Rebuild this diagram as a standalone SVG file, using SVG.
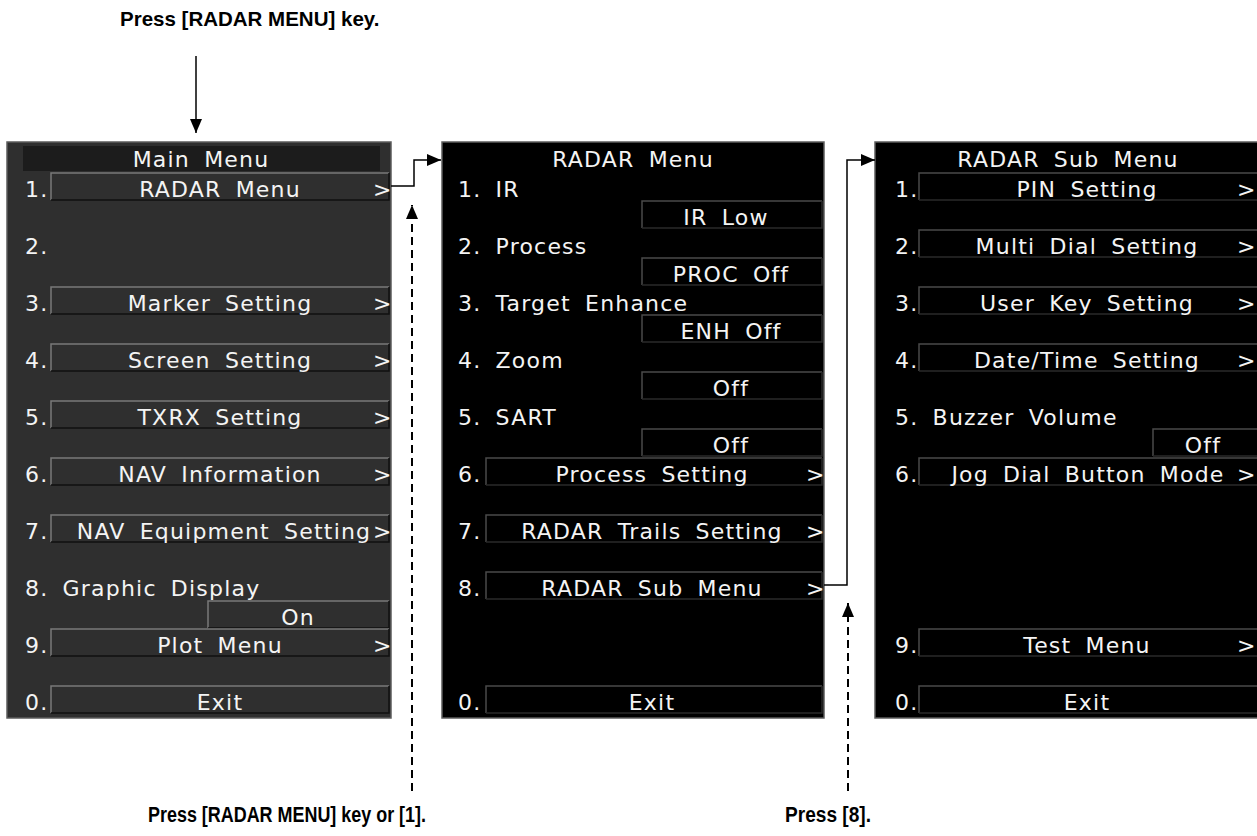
<svg xmlns="http://www.w3.org/2000/svg" width="1257" height="836" viewBox="0 0 1257 836">
<defs>
<style>
.bg{fill:#ffffff}
.pm{fill:#2f2f2f;stroke:#5c5c5c;stroke-width:1.5}
.pr{fill:#000000;stroke:#5c5c5c;stroke-width:1.5}
.tb{fill:#1c1c1c}
.t{font-family:"DejaVu Sans",sans-serif;font-size:22px;fill:#f4f4f4;letter-spacing:1.2px;word-spacing:6px}
.c{text-anchor:middle}
.gt{letter-spacing:0}
.hl{fill:none;stroke:#7a7a7a;stroke-width:1.5}
.sh{fill:none;stroke:#111111;stroke-width:1.5}
.hlb{fill:none;stroke:#4a4a4a;stroke-width:1.5}
.shb{fill:none;stroke:#2a2a2a;stroke-width:1.5}
.lab{font-family:"Liberation Sans",Arial,sans-serif;font-weight:bold;font-size:20.5px;fill:#000}
.labn{font-family:"Liberation Sans",Arial,sans-serif;font-weight:bold;font-size:22px;fill:#000}
.con{fill:none;stroke:#000;stroke-width:1.5}
.dash{fill:none;stroke:#000;stroke-width:2;stroke-dasharray:8 5}
</style>
<marker id="ah" markerUnits="userSpaceOnUse" markerWidth="14" markerHeight="12" refX="14" refY="6" orient="auto"><path d="M0,0 L14,6 L0,12 z" fill="#000"/></marker>
</defs>
<rect class="bg" x="0" y="0" width="1257" height="836"/>

<g id="label-top"><text class="lab" x="120" y="26">Press [RADAR MENU] key.</text></g>

<g id="main-menu">
<rect class="pm" x="7" y="142" width="384" height="576"/>
<rect class="tb" x="23" y="146" width="357" height="25"/>
<text class="t c" x="201" y="167">Main Menu</text>
<path class="hl" d="M51,200 V173 H389"/><path class="sh" d="M389,173 V200 H51"/>
<text class="t" x="25" y="197">1.</text><text class="t c" x="220" y="197">RADAR Menu</text><text class="t gt" x="373" y="197">&gt;</text>
<text class="t" x="25" y="254">2.</text>
<path class="hl" d="M51,314 V287 H389"/><path class="sh" d="M389,287 V314 H51"/>
<text class="t" x="25" y="311">3.</text><text class="t c" x="220" y="311">Marker Setting</text><text class="t gt" x="373" y="311">&gt;</text>
<path class="hl" d="M51,371 V344 H389"/><path class="sh" d="M389,344 V371 H51"/>
<text class="t" x="25" y="368">4.</text><text class="t c" x="220" y="368">Screen Setting</text><text class="t gt" x="373" y="368">&gt;</text>
<path class="hl" d="M51,428 V401 H389"/><path class="sh" d="M389,401 V428 H51"/>
<text class="t" x="25" y="425">5.</text><text class="t c" x="220" y="425">TXRX Setting</text><text class="t gt" x="373" y="425">&gt;</text>
<path class="hl" d="M51,485 V458 H389"/><path class="sh" d="M389,458 V485 H51"/>
<text class="t" x="25" y="482">6.</text><text class="t c" x="220" y="482">NAV Information</text><text class="t gt" x="373" y="482">&gt;</text>
<path class="hl" d="M51,542 V515 H389"/><path class="sh" d="M389,515 V542 H51"/>
<text class="t" x="25" y="539">7.</text><text class="t c" x="224" y="539">NAV Equipment Setting</text><text class="t gt" x="373" y="539">&gt;</text>
<text class="t" x="25" y="596">8. Graphic Display</text>
<path class="hl" d="M208,628 V601 H389"/><path class="sh" d="M389,601 V628 H208"/>
<text class="t c" x="298" y="625">On</text>
<path class="hl" d="M51,656 V629 H389"/><path class="sh" d="M389,629 V656 H51"/>
<text class="t" x="25" y="653">9.</text><text class="t c" x="220" y="653">Plot Menu</text><text class="t gt" x="373" y="653">&gt;</text>
<path class="hl" d="M51,713 V686 H389"/><path class="sh" d="M389,686 V713 H51"/>
<text class="t" x="25" y="710">0.</text><text class="t c" x="220" y="710">Exit</text>
</g>

<g id="radar-menu">
<rect class="pr" x="442" y="142" width="382" height="576"/>
<text class="t c" x="633" y="167">RADAR Menu</text>
<text class="t" x="458" y="197">1. IR</text>
<path class="hlb" d="M642,228 V201 H822"/><path class="shb" d="M822,201 V228 H642"/>
<text class="t c" x="726" y="225">IR Low</text>
<text class="t" x="458" y="254">2. Process</text>
<path class="hlb" d="M642,285 V258 H822"/><path class="shb" d="M822,258 V285 H642"/>
<text class="t c" x="731" y="282">PROC Off</text>
<text class="t" x="458" y="311">3. Target Enhance</text>
<path class="hlb" d="M642,342 V315 H822"/><path class="shb" d="M822,315 V342 H642"/>
<text class="t c" x="731" y="339">ENH Off</text>
<text class="t" x="458" y="368">4. Zoom</text>
<path class="hlb" d="M642,399 V372 H822"/><path class="shb" d="M822,372 V399 H642"/>
<text class="t c" x="731" y="396">Off</text>
<text class="t" x="458" y="425">5. SART</text>
<path class="hlb" d="M642,456 V429 H822"/><path class="shb" d="M822,429 V456 H642"/>
<text class="t c" x="731" y="453">Off</text>
<path class="hlb" d="M486,485 V458 H822"/><path class="shb" d="M822,458 V485 H486"/>
<text class="t" x="458" y="482">6.</text><text class="t c" x="652" y="482">Process Setting</text><text class="t gt" x="806" y="482">&gt;</text>
<path class="hlb" d="M486,542 V515 H822"/><path class="shb" d="M822,515 V542 H486"/>
<text class="t" x="458" y="539">7.</text><text class="t c" x="652" y="539">RADAR Trails Setting</text><text class="t gt" x="806" y="539">&gt;</text>
<path class="hlb" d="M486,599 V572 H822"/><path class="shb" d="M822,572 V599 H486"/>
<text class="t" x="458" y="596">8.</text><text class="t c" x="652" y="596">RADAR Sub Menu</text><text class="t gt" x="806" y="596">&gt;</text>
<path class="hlb" d="M486,713 V686 H822"/><path class="shb" d="M822,686 V713 H486"/>
<text class="t" x="458" y="710">0.</text><text class="t c" x="652" y="710">Exit</text>
</g>

<g id="radar-sub-menu">
<rect class="pr" x="875" y="142" width="392" height="576"/>
<text class="t c" x="1068" y="167">RADAR Sub Menu</text>
<path class="hlb" d="M919,200 V173 H1262"/><path class="shb" d="M919,200 H1262"/>
<text class="t" x="895" y="197">1.</text><text class="t c" x="1087" y="197">PIN Setting</text><text class="t gt" x="1237" y="197">&gt;</text>
<path class="hlb" d="M919,257 V230 H1262"/><path class="shb" d="M919,257 H1262"/>
<text class="t" x="895" y="254">2.</text><text class="t c" x="1087" y="254">Multi Dial Setting</text><text class="t gt" x="1237" y="254">&gt;</text>
<path class="hlb" d="M919,314 V287 H1262"/><path class="shb" d="M919,314 H1262"/>
<text class="t" x="895" y="311">3.</text><text class="t c" x="1087" y="311">User Key Setting</text><text class="t gt" x="1237" y="311">&gt;</text>
<path class="hlb" d="M919,371 V344 H1262"/><path class="shb" d="M919,371 H1262"/>
<text class="t" x="895" y="368">4.</text><text class="t c" x="1087" y="368">Date/Time Setting</text><text class="t gt" x="1237" y="368">&gt;</text>
<text class="t" x="895" y="425">5. Buzzer Volume</text>
<path class="hlb" d="M1153,456 V429 H1262"/><path class="shb" d="M1153,456 H1262"/>
<text class="t c" x="1203" y="453">Off</text>
<path class="hlb" d="M919,485 V458 H1262"/><path class="shb" d="M919,485 H1262"/>
<text class="t" x="895" y="482">6.</text><text class="t c" x="1088" y="482">Jog Dial Button Mode</text><text class="t gt" x="1237" y="482">&gt;</text>
<path class="hlb" d="M919,656 V629 H1262"/><path class="shb" d="M919,656 H1262"/>
<text class="t" x="895" y="653">9.</text><text class="t c" x="1087" y="653">Test Menu</text><text class="t gt" x="1237" y="653">&gt;</text>
<path class="hlb" d="M919,713 V686 H1262"/><path class="shb" d="M919,713 H1262"/>
<text class="t" x="895" y="710">0.</text><text class="t c" x="1087" y="710">Exit</text>
</g>

<g id="connectors">
<line class="con" x1="196" y1="56" x2="196" y2="133" marker-end="url(#ah)"/>
<path class="con" d="M391,186 H414 V160 H441" marker-end="url(#ah)"/>
<path class="con" d="M824,585 H847 V160 H875" marker-end="url(#ah)"/>
<line class="dash" x1="412" y1="791" x2="412" y2="205" marker-end="url(#ah)"/>
<line class="dash" x1="848" y1="791" x2="848" y2="603" marker-end="url(#ah)"/>
</g>

<g id="label-bottom-1"><text class="labn" x="148" y="822" textLength="278" lengthAdjust="spacingAndGlyphs">Press [RADAR MENU] key or [1].</text></g>
<g id="label-bottom-2"><text class="labn" x="785" y="822" textLength="86" lengthAdjust="spacingAndGlyphs">Press [8].</text></g>
</svg>
